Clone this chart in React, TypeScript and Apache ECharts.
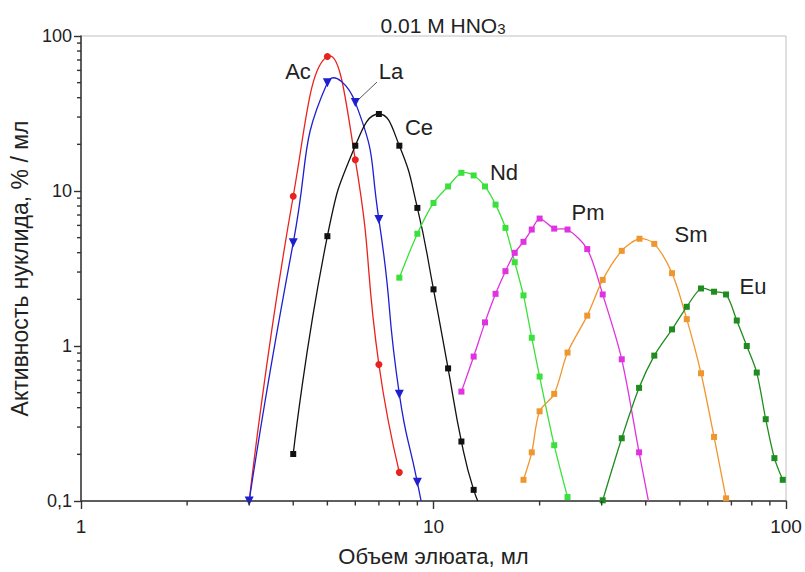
import React, { useEffect, useRef } from "react";
import * as echarts from "echarts";

// ---- data ----
const acX = [3, 4, 5, 6, 7, 8];
const acY = [0.1, 9.25, 73.7, 15.9, 0.76, 0.153];

const laX = [3, 4, 5, 6, 7, 8, 9, 10];
const laY = [0.1, 4.63, 50, 37.3, 6.54, 0.489, 0.132, 0.04];

const ceX = [4, 5, 6, 7, 8, 9, 10, 11, 12, 13, 14];
const ceY = [0.201, 5.11, 19.6, 31.4, 19.6, 7.78, 2.32, 0.717, 0.242, 0.118, 0.08];

const ndX = [8, 9, 10, 11, 12, 13, 14, 15, 16, 17, 18, 19, 20, 22, 24];
const ndY = [2.76, 5.3, 8.37, 10.7, 13.1, 12.6, 10.7, 8.17, 5.78, 3.47, 2.12, 1.13, 0.635, 0.229, 0.106];

const pmX = [12, 13, 14, 15, 16, 17, 18, 19, 20, 22, 24, 27.3, 30.2, 34.2, 38.3, 42.3];
const pmY = [0.508, 0.855, 1.42, 2.17, 3.04, 3.99, 4.7, 5.64, 6.64, 5.72, 5.64, 4.22, 2.15, 0.821, 0.206, 0.064];

const smX = [18, 19, 20, 22, 24, 27.3, 30.2, 34.2, 38.4, 42.3, 47.5, 52.3, 57.4, 62.5, 67.6];
const smY = [0.137, 0.206, 0.379, 0.491, 0.907, 1.57, 2.67, 4.11, 4.92, 4.56, 2.95, 1.49, 0.667, 0.259, 0.104];

const euX = [30.2, 34.2, 38.3, 42.3, 47.5, 52.3, 57.4, 62.5, 67.6, 72.5, 77.4, 82.6, 87.6, 92.7, 97.9];
const euY = [0.101, 0.254, 0.537, 0.867, 1.28, 1.79, 2.35, 2.24, 2.15, 1.46, 1.0, 0.674, 0.337, 0.189, 0.137];

const xMinorTicks = [2, 3, 4, 5, 6, 7, 8, 9, 20, 30, 40, 50, 60, 70, 80, 90];
const yMinorTicks = [0.2, 0.3, 0.4, 0.5, 0.6, 0.7, 0.8, 0.9, 2, 3, 4, 5, 6, 7, 8, 9, 20, 30, 40, 50, 60, 70, 80, 90];

const X_MIN = 1;
const X_MAX = 100;
const Y_MIN = 0.1;
const Y_MAX = 100;

const FONT = "'Liberation Sans', Arial, sans-serif";
const TEXT = "#222";
const AXIS = "#333";

function zip(xs: number[], ys: number[]) {
  return xs.map((x, i) => [x, ys[i]]);
}

// smooth curve through the data points (coordinates from the axes)
function curveSeries(name: string, xs: number[], ys: number[], color: string, smooth: number) {
  return {
    name,
    type: "custom",
    silent: true,
    clip: true,
    z: 2,
    data: [[xs[0], ys[0]]],
    renderItem: (params: any, api: any) => {
      const pts = xs.map((x, i) => api.coord([x, ys[i]]));
      const cs = params.coordSys;
      return {
        type: "polyline",
        shape: { points: pts, smooth },
        style: { stroke: color, lineWidth: 1.3, fill: "none" },
        clipPath: { type: "rect", shape: { x: cs.x, y: cs.y, width: cs.width, height: cs.height } },
      };
    },
  };
}

function markerSeries(
  name: string,
  xs: number[],
  ys: number[],
  color: string,
  symbol: string,
  size: number,
  rotate = 0,
  hideFirst = false
) {
  const data: any[] = zip(xs, ys);
  if (hideFirst) data[0] = { value: data[0], symbol: "none" };
  return {
    name,
    type: "scatter",
    data,
    symbol,
    symbolSize: size,
    symbolRotate: rotate,
    clip: true,
    itemStyle: { color, opacity: 1 },
    z: 3,
  };
}

function label(text: string, x: number, y: number) {
  return {
    type: "text",
    x,
    y,
    style: { text, fontSize: 22, fontFamily: FONT, fill: TEXT, align: "center", verticalAlign: "middle" },
  };
}

export default function App() {
  const ref = useRef<HTMLDivElement>(null);

  useEffect(() => {
    document.body.style.margin = "0";
    if (!ref.current) return;
    const chart = echarts.init(ref.current, undefined, { renderer: "svg" });
    const labels: any[] = [
      label("Ac", 298, 71),
      label("La", 391, 71),
      { type: "line", shape: { x1: 377, y1: 82, x2: 358, y2: 100 }, style: { stroke: "#555", lineWidth: 1 } },
      label("Ce", 419, 127),
      label("Nd", 504, 172),
      label("Pm", 588, 212),
      label("Sm", 691, 234),
      label("Eu", 753, 286),
    ];
    const option: any = {
      animation: false,
      backgroundColor: "#ffffff",
      title: {
        text: "{a|0.01 M HNO}{b|3}",
        left: 438,
        top: 4,
        textAlign: "center",
        textStyle: {
          rich: {
            a: { fontSize: 21, fontWeight: "normal", fontFamily: FONT, color: TEXT, lineHeight: 27, verticalAlign: "bottom" },
            b: { fontSize: 15, fontWeight: "normal", fontFamily: FONT, color: TEXT, lineHeight: 27, verticalAlign: "bottom" },
          },
        },
      },
      grid: {
        left: 81,
        right: 19,
        top: 36,
        bottom: 70,
        show: true,
        borderColor: "#c0c0c0",
        borderWidth: 1,
        backgroundColor: "transparent",
      },
      xAxis: {
        type: "log",
        min: X_MIN,
        max: X_MAX,
        logBase: 10,
        name: "Объем элюата, мл",
        nameLocation: "middle",
        nameGap: 44,
        nameTextStyle: { fontSize: 22, color: TEXT, fontFamily: FONT },
        axisLine: { show: true, lineStyle: { color: AXIS, width: 1.5 } },
        axisTick: { show: true, length: 8, lineStyle: { color: AXIS, width: 1.4 } },
        axisLabel: { fontSize: 19, color: TEXT, margin: 16, fontFamily: FONT },
        splitLine: { show: false },
        minorTick: { show: false },
      },
      yAxis: {
        type: "log",
        min: Y_MIN,
        max: Y_MAX,
        logBase: 10,
        name: "Активность нуклида, % / мл",
        nameLocation: "middle",
        nameGap: 46,
        nameTextStyle: { fontSize: 23, color: TEXT, fontFamily: FONT },
        axisLine: { show: true, lineStyle: { color: AXIS, width: 1.5 } },
        axisTick: { show: true, length: 7, lineStyle: { color: AXIS, width: 1.4 } },
        axisLabel: {
          fontSize: 18,
          color: TEXT,
          margin: 9,
          fontFamily: FONT,
          formatter: (v: number) => String(v).replace(".", ","),
        },
        splitLine: { show: false },
        minorTick: { show: false },
      },
      series: [
        curveSeries("Ac line", acX, acY, "#e8231f", 0.5),
        curveSeries("La line", laX, laY, "#1f1fd0", 0.55),
        curveSeries("Ce line", ceX, ceY, "#111111", 0.5),
        curveSeries("Nd line", ndX, ndY, "#3ce03c", 0.3),
        curveSeries("Pm line", pmX, pmY, "#e032e0", 0.3),
        curveSeries("Sm line", smX, smY, "#f0962e", 0.3),
        curveSeries("Eu line", euX, euY, "#1e8c1e", 0.3),
        markerSeries("Ac", acX, acY, "#e8231f", "circle", 7, 0, true),
        markerSeries("La", laX, laY, "#1f1fd0", "triangle", 9, 180),
        markerSeries("Ce", ceX, ceY, "#111111", "rect", 6),
        markerSeries("Nd", ndX, ndY, "#3ce03c", "rect", 6),
        markerSeries("Pm", pmX, pmY, "#e032e0", "rect", 6),
        markerSeries("Sm", smX, smY, "#f0962e", "rect", 6),
        markerSeries("Eu", euX, euY, "#1e8c1e", "rect", 6),
      ],
      graphic: { elements: labels },
    };
    chart.setOption(option);

    // minor ticks of the log axes, positioned through the chart's own axes
    const ticks: any[] = [];
    xMinorTicks.forEach((v) => {
      const p = chart.convertToPixel({ gridIndex: 0 }, [v, Y_MIN]) as number[];
      ticks.push({ type: "line", z: 10, shape: { x1: p[0], y1: p[1], x2: p[0], y2: p[1] + 4.5 }, style: { stroke: AXIS, lineWidth: 1.4 } });
    });
    yMinorTicks.forEach((v) => {
      const p = chart.convertToPixel({ gridIndex: 0 }, [X_MIN, v]) as number[];
      ticks.push({ type: "line", z: 10, shape: { x1: p[0], y1: p[1], x2: p[0] - 4, y2: p[1] }, style: { stroke: AXIS, lineWidth: 1.4 } });
    });
    chart.setOption({ graphic: { elements: [...labels, ...ticks] } });

    return () => chart.dispose();
  }, []);

  return <div ref={ref} style={{ width: 805, height: 572 }} />;
}
